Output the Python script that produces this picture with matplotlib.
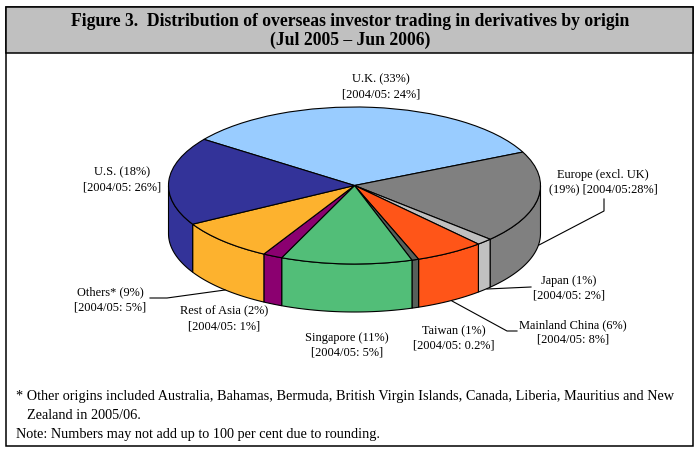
import numpy as np
import matplotlib
matplotlib.use('Agg')
import matplotlib.pyplot as plt
from matplotlib.patches import Rectangle

plt.rcParams['font.family'] = ['Liberation Serif', 'DejaVu Serif']

origins = ['U.K.', 'Europe', 'Japan', 'Mainland China', 'Taiwan', 'Singapore', 'Rest of Asia', 'Others', 'U.S.']
# they round to the printed labels
shares = [33, 19, 1.4, 6, 0.6, 11.4, 1.7, 8.7, 18.2]
slice_colors = ['#99CCFF', '#808080', '#C0C0C0', '#FF5518', '#56605A', '#52BE78', '#8B0070', '#FDB22E', '#333399']

labels = [
    'U.K. (33%)\n[2004/05: 24%]',
    'Europe (excl. UK)\n(19%) [2004/05:28%]',
    'Japan (1%)\n[2004/05: 2%]',
    'Mainland China (6%)\n[2004/05: 8%]',
    'Taiwan (1%)\n[2004/05: 0.2%]',
    'Singapore (11%)\n[2004/05: 5%]',
    'Rest of Asia (2%)\n[2004/05: 1%]',
    'Others* (9%)\n[2004/05: 5%]',
    'U.S. (18%)\n[2004/05: 26%]',
]
label_x = [381, 603, 569, 573, 454, 347, 224, 110, 122]
label_y = [87, 182, 288.5, 332.5, 338.5, 345.5, 319, 300, 180]

title = 'Figure 3.  Distribution of overseas investor trading in derivatives by origin\n(Jul 2005 \u2013 Jun 2006)'
note_1 = '* Other origins included Australia, Bahamas, Bermuda, British Virgin Islands, Canada, Liberia, Mauritius and New'
note_2 = 'Zealand in 2005/06.'
note_3 = 'Note: Numbers may not add up to 100 per cent due to rounding.'

START = 144
W, H = 698, 452
CX, CY, RX, RY, DEPTH = 354.5, 186.5, 186, 78.5, 48

fig = plt.figure(figsize=(W / 100, H / 100), dpi=100)

# page axes, in pixels
ax = fig.add_axes([0, 0, 1, 1])
ax.set_xlim(0, W)
ax.set_ylim(H, 0)
ax.axis('off')

ax.add_patch(Rectangle((5.5, 7.5), 687, 439, fc='white', ec='black', lw=1.1))
ax.add_patch(Rectangle((5.5, 7.5), 687, 46, fc='#C0C0C0', ec='black', lw=1.1))
ax.text(350, 31, title, ha='center', va='center', fontsize=12.7, fontweight='bold', linespacing=1.2)

# pie axes: unit circle squashed to the ellipse of the top face
pie_ax = fig.add_axes([(CX - RX) / W, 1 - (CY + RY) / H, 2 * RX / W, 2 * RY / H])
pie_ax.patch.set_alpha(0)

# side wall first
ends = START - np.cumsum(shares) * 3.6
starts = ends + np.array(shares) * 3.6
drop = DEPTH / RY
for a0, a1, col in zip(starts, ends, slice_colors):
    for lo, hi in [(-180, 0), (-540, -360)]:
        s = min(a0, hi)
        e = max(a1, lo)
        if s <= e:
            continue
        t = np.radians(np.linspace(s, e, 60))
        xs = np.r_[np.cos(t), np.cos(t[::-1])]
        ys = np.r_[np.sin(t), np.sin(t[::-1]) - drop]
        pie_ax.fill(xs, ys, facecolor=col, edgecolor='black', lw=0.8, clip_on=False)

pie_ax.pie(shares, colors=slice_colors, startangle=START, counterclock=False, radius=1,
           wedgeprops={'edgecolor': 'black', 'linewidth': 0.8})
pie_ax.set_aspect('auto')
pie_ax.set_xlim(-1, 1)
pie_ax.set_ylim(-1, 1)
pie_ax.axis('off')

# labels on top of everything
top = fig.add_axes([0, 0, 1, 1])
top.set_xlim(0, W)
top.set_ylim(H, 0)
top.axis('off')
top.patch.set_alpha(0)

for lab, x, y in zip(labels, label_x, label_y):
    top.text(x, y, lab, ha='center', va='center', fontsize=8.9, linespacing=1.3)

# leader lines
top.plot([539, 604, 604], [246, 212, 200], color='black', lw=0.8)
top.plot([150, 167, 225], [299, 299, 291], color='black', lw=0.8)
top.plot([487, 531], [290, 288], color='black', lw=0.8)
top.plot([452, 507, 517], [302, 332, 332], color='black', lw=0.8)

top.text(16, 397, note_1, ha='left', va='center', fontsize=10.3)
top.text(27, 416, note_2, ha='left', va='center', fontsize=10.3)
top.text(16, 435, note_3, ha='left', va='center', fontsize=10.3)

fig.savefig('out.png', dpi=100)
